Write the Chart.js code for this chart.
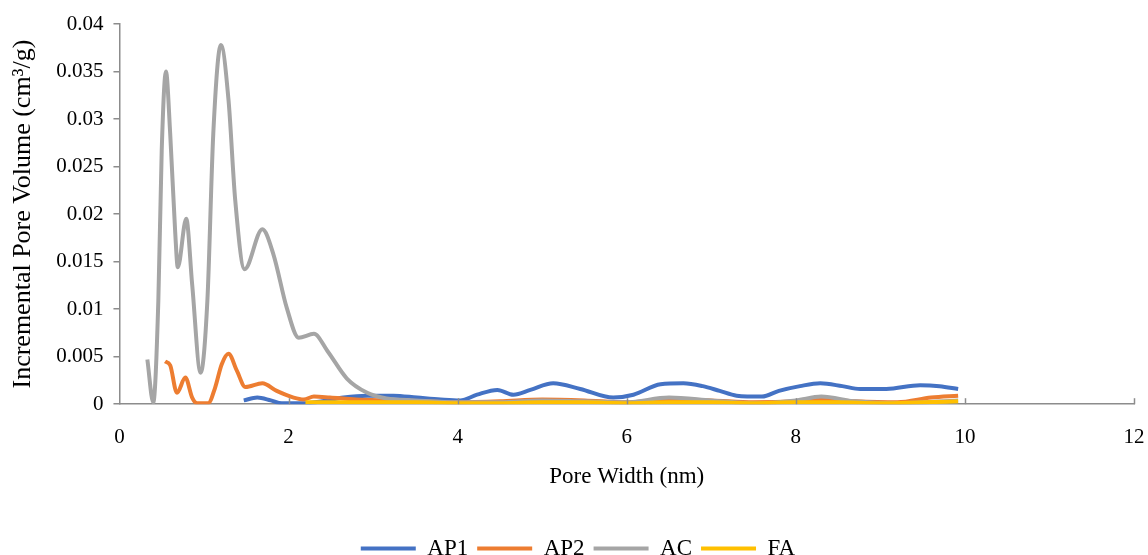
<!DOCTYPE html>
<html>
<head>
<meta charset="utf-8">
<script src="https://cdn.jsdelivr.net/npm/chart.js@4/dist/chart.umd.min.js"></script>
<style>
html,body{margin:0;padding:0;background:#fff;}
#wrap{width:1148px;height:555px;position:relative;}
</style>
</head>
<body>
<div id="wrap"><canvas id="c" width="1148" height="555"></canvas></div>
<script>
// ---- data ----
const seriesNames = ["AP1", "AP2", "AC", "FA"];
const seriesColors = ["#4472C4", "#ED7D31", "#A5A5A5", "#FFC000"];

const ap1X = [1.47, 1.63, 1.79, 1.92, 2.05, 2.2, 2.4, 2.65, 2.93, 3.24, 3.52, 3.8, 4.03, 4.23, 4.47, 4.66, 4.86, 5.13, 5.45, 5.84, 6.08, 6.4, 6.67, 6.9, 7.1, 7.3, 7.6, 7.8, 8.05, 8.29, 8.55, 8.76, 9.07, 9.47, 9.7, 9.92];
const ap1Y = [0.0004, 0.0007, 0.0004, 0.0001, 0.0001, 0.0001, 0.0003, 0.0007, 0.0009, 0.0009, 0.0007, 0.0005, 0.0004, 0.001, 0.0015, 0.001, 0.0015, 0.0022, 0.0016, 0.0007, 0.001, 0.0021, 0.0022, 0.0019, 0.0014, 0.0009, 0.0008, 0.0014, 0.0019, 0.0022, 0.0019, 0.0016, 0.0016, 0.002, 0.0019, 0.0016];

const ap2X = [0.54, 0.6, 0.68, 0.78, 0.86, 0.92, 1.05, 1.13, 1.21, 1.29, 1.39, 1.49, 1.69, 1.86, 2.06, 2.18, 2.3, 2.49, 2.8, 3.2, 3.6, 4.0, 4.5, 5.0, 5.5, 6.0, 6.5, 7.0, 7.5, 8.0, 8.3, 8.7, 9.2, 9.6, 9.92];
const ap2Y = [0.0045, 0.0041, 0.0012, 0.0028, 0.0007, 0.0001, 0.0001, 0.0017, 0.0042, 0.0053, 0.0035, 0.0018, 0.0022, 0.0014, 0.0007, 0.0005, 0.0008, 0.0007, 0.0005, 0.0004, 0.0003, 0.0002, 0.0003, 0.0005, 0.0004, 0.0002, 0.0005, 0.0004, 0.0002, 0.0003, 0.0005, 0.0003, 0.0002, 0.0007, 0.0009];

const acX = [0.33, 0.4, 0.46, 0.5, 0.55, 0.6, 0.66, 0.69, 0.79, 0.86, 0.96, 1.04, 1.11, 1.2, 1.29, 1.37, 1.48, 1.69, 1.82, 1.98, 2.12, 2.3, 2.46, 2.69, 2.93, 3.16, 3.5, 4.0, 4.5, 5.0, 5.5, 6.0, 6.5, 7.0, 7.5, 8.0, 8.3, 8.7, 9.2, 9.92];
const acY = [0.0047, 0.0002, 0.0109, 0.0267, 0.035, 0.0285, 0.018, 0.0144, 0.0195, 0.0126, 0.0033, 0.0109, 0.0285, 0.0378, 0.032, 0.0214, 0.0142, 0.0184, 0.0158, 0.0101, 0.007, 0.0074, 0.0056, 0.0027, 0.0012, 0.0006, 0.0004, 0.0002, 0.0002, 0.0004, 0.0003, 0.0002, 0.0007, 0.0004, 0.0001, 0.0004, 0.0008, 0.0003, 0.0001, 0.0004];

const faX = [2.2, 2.6, 3.0, 3.5, 4.0, 4.5, 5.0, 5.5, 6.0, 6.5, 7.0, 7.5, 8.0, 8.5, 9.0, 9.5, 9.92];
const faY = [0.0002, 0.0002, 0.0002, 0.0002, 0.0001, 0.0001, 0.0002, 0.0002, 0.0001, 0.0002, 0.0002, 0.0001, 0.0002, 0.0002, 0.0001, 0.0002, 0.0003];

const xTicks = [0, 2, 4, 6, 8, 10, 12];
const yTicks = [0, 0.005, 0.01, 0.015, 0.02, 0.025, 0.03, 0.035, 0.04];
const xTitle = "Pore Width (nm)";
const yTitle = "Incremental Pore Volume (cm³/g)";

// ---- build chart ----
const xs = [ap1X, ap2X, acX, faX];
const ys = [ap1Y, ap2Y, acY, faY];
const datasets = seriesNames.map((name, i) => ({
  label: name,
  data: xs[i].map((x, k) => ({x: x, y: ys[i][k]})),
  borderColor: seriesColors[i],
  backgroundColor: seriesColors[i],
  borderWidth: 4,
  pointRadius: 0,
  fill: false,
  cubicInterpolationMode: 'monotone',
  order: seriesNames.length - i
}));

const axisColor = "#8C8C8C";
const serif = "'Liberation Serif', 'Times New Roman', serif";

const innerTicks = {
  id: 'innerTicks',
  afterDatasetsDraw(chart) {
    const xs = chart.scales.x, ys = chart.scales.y;
    const ctx = chart.ctx;
    ctx.save();
    ctx.strokeStyle = axisColor;
    ctx.lineWidth = 1.5;
    const yb = ys.getPixelForValue(0);
    xTicks.forEach(v => {
      if (v === 0) return;
      const px = Math.round(xs.getPixelForValue(v)) + 0.5;
      ctx.beginPath();
      ctx.moveTo(px, yb);
      ctx.lineTo(px, yb - 6);
      ctx.stroke();
    });
    ctx.restore();
  }
};

new Chart(document.getElementById('c'), {
  type: 'line',
  data: { datasets: datasets },
  plugins: [innerTicks],
  options: {
    responsive: false,
    animation: false,
    layout: { padding: { left: 8, right: 0, top: 24, bottom: -15 } },
    plugins: {
      legend: {
        position: 'bottom',
        labels: {
          usePointStyle: true,
          pointStyle: 'line',
          pointStyleWidth: 55,
          boxHeight: 20,
          color: '#000',
          font: { family: serif, size: 23 },
          padding: 9,
          sort: (a, b) => a.datasetIndex - b.datasetIndex
        }
      },
      tooltip: { enabled: false }
    },
    scales: {
      x: {
        type: 'linear',
        min: 0, max: 12,
        afterBuildTicks: s => { s.ticks = xTicks.map(v => ({value: v})); },
        afterFit: s => { s.paddingRight = 14; },
        grid: { display: false },
        border: { display: true, color: axisColor, width: 1.5 },
        ticks: { color: '#000', font: { family: serif, size: 21 }, padding: 13 },
        title: { display: true, text: xTitle, color: '#000', font: { family: serif, size: 23 }, padding: { top: 0, bottom: 37 } }
      },
      y: {
        type: 'linear',
        min: 0, max: 0.04,
        afterBuildTicks: s => { s.ticks = yTicks.map(v => ({value: v})); },
        grid: { drawOnChartArea: false, drawTicks: true, tickLength: 6, color: axisColor, lineWidth: 1.5 },
        border: { display: true, color: axisColor, width: 1.5 },
        ticks: { color: '#000', font: { family: serif, size: 21 }, padding: 10, callback: v => String(+v.toFixed(3)) },
        title: { display: true, text: yTitle, color: '#000', font: { family: serif, size: 26 }, padding: { top: 0, bottom: 7 } }
      }
    }
  }
});
</script>
</body>
</html>
